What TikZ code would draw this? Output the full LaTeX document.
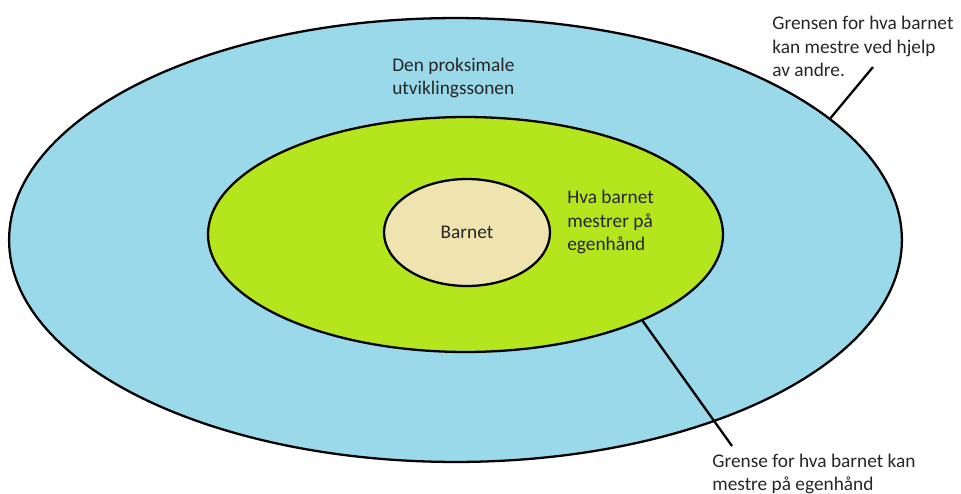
\documentclass[tikz,border=0pt]{standalone}
\usepackage{fontspec}
\setmainfont{Carlito}
\usepackage{xcolor}
\usepackage{tikz}
\usetikzlibrary{shapes.geometric}

\definecolor{zoneblue}{RGB}{153,217,234}
\definecolor{zonegreen}{RGB}{181,230,29}
\definecolor{zonesand}{RGB}{239,228,176}

\begin{document}
\begin{tikzpicture}[
  x=0.02cm, y=-0.02cm,
  zone/.style={ellipse, draw, line width=1.3pt, inner sep=0pt, text=black!85, font=\fontsize{11}{13.2}\selectfont},
  lbl/.style={align=left, inner sep=0pt, anchor=west, text=black!85, font=\fontsize{11}{13.2}\selectfont},
  pointer/.style={line width=1.3pt}
]
\useasboundingbox (0,0) rectangle (961,494);

% Zones, from outside in
\node[zone, fill=zoneblue, minimum width=17.86cm, minimum height=8.88cm] (outer) at (455.5,240) {};
\node[zone, fill=zonegreen, minimum width=10.3cm, minimum height=4.7cm] (middle) at (465.5,234.5) {};
\node[zone, fill=zonesand, minimum width=3.32cm, minimum height=2.14cm] (inner) at (467,232.5) {Barnet\hspace{0.3cm}};

% Zone texts
\node[lbl] (zpd) at (392,78) {Den proksimale\\utviklingssonen};
\node[lbl] (self) at (567,222) {Hva barnet\\mestrer på\\egenhånd};

% Boundary labels
\node[lbl] (toplbl) at (772,46.5) {Grensen for hva barnet\\kan mestre ved hjelp\\av andre.};
\node[lbl] (botlbl) at (712,474) {Grense for hva barnet kan\\mestre på egenhånd};

% Pointer lines
\coordinate (toptip) at (873,67);
\coordinate (bottip) at (732,446);
\draw[pointer] (outer.18) -- (toptip);
\draw[pointer] (middle.-26.5) -- (bottip);

\end{tikzpicture}
\end{document}
